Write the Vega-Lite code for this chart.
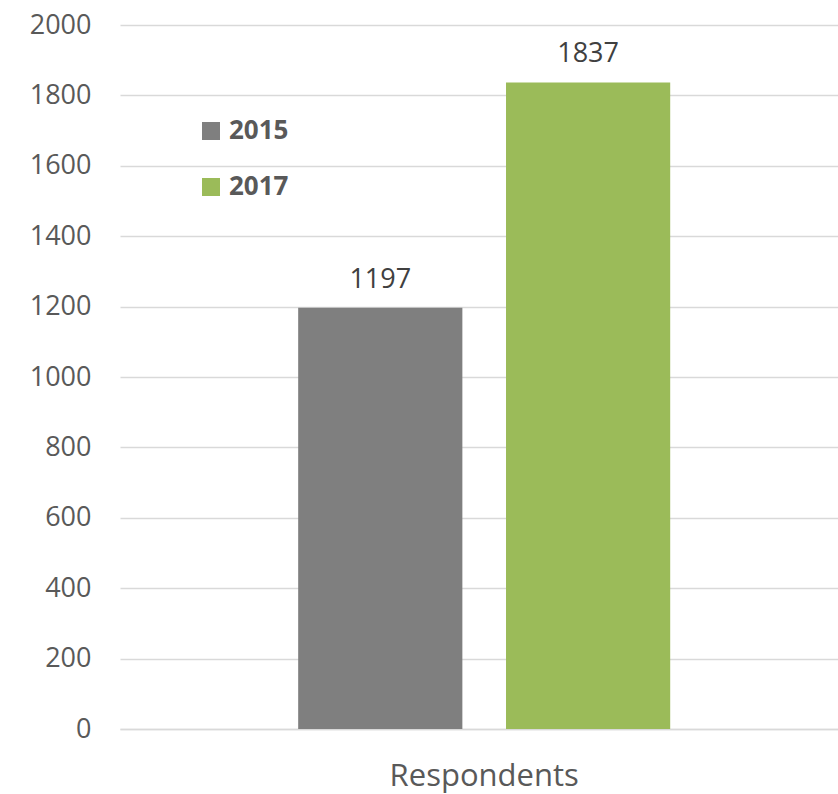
{
  "$schema": "https://vega.github.io/schema/vega-lite/v6.json",
  "width": 718,
  "height": 704,
  "autosize": "none",
  "padding": {"left": 120, "top": 25, "right": 0, "bottom": 65},
  "background": "white",
  "config": {
    "view": {"stroke": null},
    "font": "Open Sans"
  },
  "data": {
    "values": [
      {"category": "Respondents", "year": "2015", "value": 1197},
      {"category": "Respondents", "year": "2017", "value": 1837}
    ]
  },
  "encoding": {
    "x": {
      "field": "category",
      "type": "nominal",
      "scale": {"paddingInner": 0, "paddingOuter": 0.465, "align": 0.515},
      "axis": {
        "title": null,
        "labelAngle": 0,
        "labelFontSize": 31,
        "labelLimit": 0,
        "labelColor": "#595959",
        "labelPadding": 32,
        "ticks": false,
        "domain": true,
        "domainColor": "#d9d9d9",
        "domainWidth": 1.5
      }
    },
    "xOffset": {
      "field": "year",
      "type": "nominal",
      "scale": {"paddingInner": 0.21, "paddingOuter": 0}
    },
    "y": {
      "field": "value",
      "type": "quantitative",
      "scale": {"domain": [0, 2000]},
      "axis": {
        "title": null,
        "values": [0, 200, 400, 600, 800, 1000, 1200, 1400, 1600, 1800, 2000],
        "format": "d",
        "labelFontSize": 27,
        "labelColor": "#595959",
        "labelPadding": 29,
        "ticks": false,
        "domain": false,
        "gridColor": "#d9d9d9",
        "gridWidth": 1.5
      }
    }
  },
  "layer": [
    {
      "mark": {"type": "bar"},
      "encoding": {
        "color": {
          "field": "year",
          "type": "nominal",
          "scale": {"domain": ["2015", "2017"], "range": ["#7f7f7f", "#9bbb59"]},
          "legend": {
            "title": null,
            "orient": "none",
            "legendX": 78,
            "legendY": 93,
            "symbolType": "square",
            "symbolSize": 324,
            "symbolStrokeWidth": 0,
            "labelFontSize": 26,
            "labelFontWeight": "bold",
            "labelColor": "#595959",
            "rowPadding": 30,
            "labelOffset": 5
          }
        }
      }
    },
    {
      "mark": {"type": "text", "dy": -20, "fontSize": 27, "color": "#404040", "baseline": "alphabetic"},
      "encoding": {
        "text": {"field": "value", "type": "quantitative", "format": "d"}
      }
    }
  ]
}
